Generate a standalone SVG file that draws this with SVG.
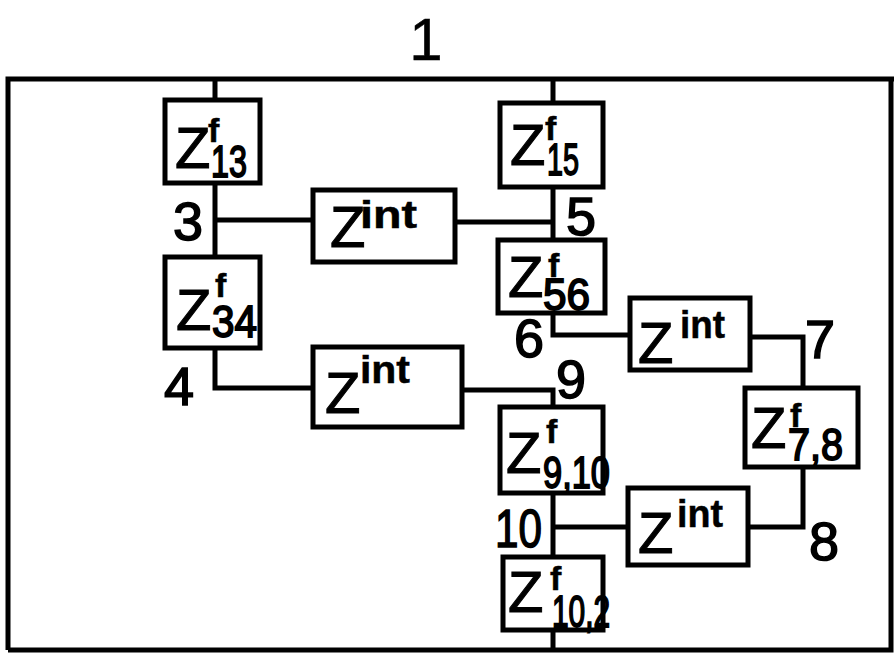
<svg xmlns="http://www.w3.org/2000/svg" width="894" height="657" viewBox="0 0 894 657">
<style>
.bx{fill:#fff;stroke:#000;stroke-width:5}
.ln{fill:none;stroke:#000;stroke-width:5;stroke-linejoin:miter}
text{font-family:"Liberation Sans",Arial,sans-serif;fill:#000;stroke:#000;stroke-width:1}
.z{font-size:58px}
.f{font-size:34px;font-weight:bold;stroke-width:0.5}
.s{font-size:44px;stroke-width:1.8}
.i{font-size:38px;font-weight:bold;stroke-width:0.5}
.l{font-size:54px;stroke-width:1.5}
</style>
<rect width="894" height="657" fill="#fff"/>
<g id="connectors">
<path class="ln" d="M8,650 V79 H894 M891,79 V650 H8"/>
<path class="ln" d="M215,79 V100 M215,183 V257 M215,348 V388 H313"/>
<path class="ln" d="M215,220 H313 M455,222 H553"/>
<path class="ln" d="M553,79 V103 M553,187 V240 M553,313 V335 H630"/>
<path class="ln" d="M750,337 H803 V388 M803,467 V527 H748"/>
<path class="ln" d="M462,390 H553 V407 M553,493 V557 M553,527 H628 M553,630 V650"/>
</g>
<g id="port1"><text x="426" y="60" class="l" text-anchor="middle" style="font-size:60px;stroke-width:0.5">1</text></g>
<g id="Z13"><rect class="bx" x="165" y="100" width="95" height="83"/>
<text class="z" x="175" y="168">Z</text><text class="f" x="208" y="142">f</text><text class="s" x="211" y="177" textLength="36" lengthAdjust="spacingAndGlyphs">13</text></g>
<g id="Z15"><rect class="bx" x="500" y="103" width="103" height="84"/>
<text class="z" x="510" y="165">Z</text><text class="f" x="545" y="140">f</text><text class="s" x="547" y="175" textLength="32" lengthAdjust="spacingAndGlyphs">15</text></g>
<g id="Z34"><rect class="bx" x="165" y="257" width="95" height="91"/>
<text class="z" x="176" y="330">Z</text><text class="f" x="215" y="297">f</text><text class="s" x="212" y="337" textLength="45" lengthAdjust="spacingAndGlyphs">34</text></g>
<g id="Z56"><rect class="bx" x="498" y="240" width="107" height="73"/>
<text class="z" x="508" y="297">Z</text><text class="f" x="548" y="277">f</text><text class="s" x="543" y="310" textLength="47" lengthAdjust="spacingAndGlyphs">56</text></g>
<g id="Z910"><rect class="bx" x="500" y="407" width="103" height="86"/>
<text class="z" x="506" y="473">Z</text><text class="f" x="546" y="443">f</text><text class="s" x="543" y="488" textLength="67" lengthAdjust="spacingAndGlyphs">9,10</text></g>
<g id="Z78"><rect class="bx" x="745" y="388" width="113" height="79"/>
<text class="z" x="751" y="448">Z</text><text class="f" x="790" y="427">f</text><text class="s" x="788" y="460" textLength="55" lengthAdjust="spacingAndGlyphs">7,8</text></g>
<g id="Z102"><rect class="bx" x="503" y="557" width="100" height="73"/>
<text class="z" x="508" y="612">Z</text><text class="f" x="550" y="590">f</text><text class="s" x="552" y="627" textLength="58" lengthAdjust="spacingAndGlyphs">10,2</text></g>
<g id="Zint1"><rect class="bx" x="313" y="190" width="142" height="72"/>
<text class="z" x="330" y="247">Z</text><text class="i" x="360" y="228" textLength="57" lengthAdjust="spacingAndGlyphs">int</text></g>
<g id="Zint2"><rect class="bx" x="313" y="347" width="149" height="80"/>
<text class="z" x="325" y="413">Z</text><text class="i" x="360" y="383" textLength="50" lengthAdjust="spacingAndGlyphs">int</text></g>
<g id="Zint3"><rect class="bx" x="630" y="298" width="120" height="72"/>
<text class="z" x="638" y="363">Z</text><text class="i" x="680" y="338" textLength="45" lengthAdjust="spacingAndGlyphs">int</text></g>
<g id="Zint4"><rect class="bx" x="628" y="488" width="120" height="77"/>
<text class="z" x="638" y="553">Z</text><text class="i" x="677" y="527" textLength="46" lengthAdjust="spacingAndGlyphs">int</text></g>
<g id="labels">
<text class="l" x="173" y="240">3</text>
<text class="l" x="566" y="235">5</text>
<text class="l" x="164" y="405">4</text>
<text class="l" x="514" y="357">6</text>
<text class="l" x="556" y="398">9</text>
<text class="l" x="805" y="358">7</text>
<text class="l" x="495" y="547" textLength="47" lengthAdjust="spacingAndGlyphs">10</text>
<text class="l" x="809" y="560">8</text>
</g>
</svg>
